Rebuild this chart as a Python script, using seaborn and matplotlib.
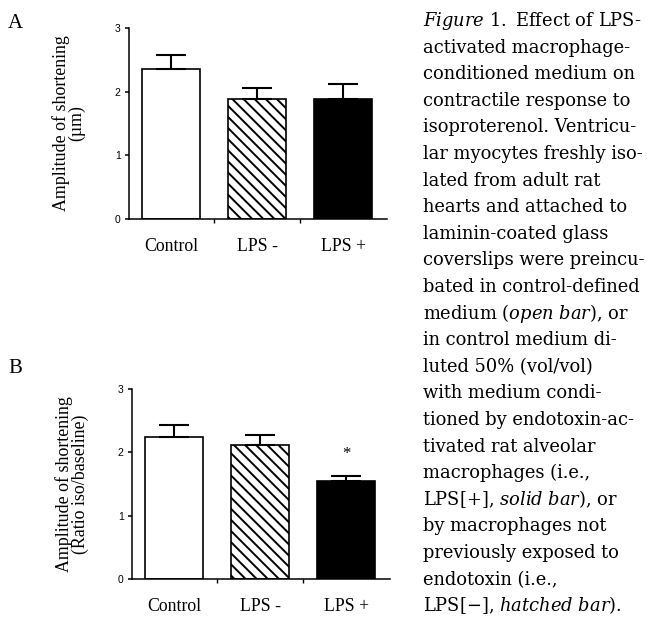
import numpy as np
import seaborn as sns
import matplotlib
matplotlib.use("Agg")
import matplotlib.pyplot as plt

# data
groups = ["Control", "LPS -", "LPS +"]
amp_um = [2.35, 1.89, 1.89]
amp_um_sem = [0.22, 0.17, 0.23]
ratio_iso = [2.24, 2.11, 1.54]
ratio_iso_sem = [0.19, 0.17, 0.09]
yticks = [0, 1, 2, 3]

caption_lines = [
    r"$\mathit{Figure\ 1.}$ Effect of LPS-",
    "activated macrophage-",
    "conditioned medium on",
    "contractile response to",
    "isoproterenol. Ventricu-",
    "lar myocytes freshly iso-",
    "lated from adult rat",
    "hearts and attached to",
    "laminin-coated glass",
    "coverslips were preincu-",
    "bated in control-defined",
    r"medium ($\mathit{open\ bar}$), or",
    "in control medium di-",
    "luted 50% (vol/vol)",
    "with medium condi-",
    "tioned by endotoxin-ac-",
    "tivated rat alveolar",
    "macrophages (i.e.,",
    r"LPS[+], $\mathit{solid\ bar}$), or",
    "by macrophages not",
    "previously exposed to",
    "endotoxin (i.e.,",
    r"LPS[$-$], $\mathit{hatched\ bar}$).",
]

sns.set_style("white")
plt.rcParams["mathtext.fontset"] = "custom"
plt.rcParams["mathtext.rm"] = "DejaVu Serif"
plt.rcParams["mathtext.it"] = "DejaVu Serif:italic"
plt.rcParams["hatch.linewidth"] = 1.4
for key in ["text.color", "axes.labelcolor", "xtick.color", "ytick.color", "axes.edgecolor"]:
    plt.rcParams[key] = "black"

W, H = 647, 626
fig = plt.figure(figsize=(W / 100, H / 100), dpi=100)

serif = "Liberation Serif"
sans = "Liberation Sans"


def panel(rect, values, errs, ylabel, star=False):
    ax = fig.add_axes(rect)
    sns.barplot(x=groups, y=values, ax=ax, width=0.675,
                color="white", edgecolor="black", linewidth=1.2)
    bars = ax.patches
    bars[0].set_facecolor("white")
    bars[1].set_facecolor("white")
    bars[1].set_hatch("\\\\\\")
    bars[2].set_facecolor("black")
    ax.errorbar(range(len(groups)), values, yerr=[[0] * len(errs), errs],
                fmt="none", ecolor="black", elinewidth=1.5, capsize=10.5,
                capthick=1.5, zorder=3)
    ax.set_ylim(0, 3)
    ax.set_xlim(-0.49, 2.51)
    ax.set_yticks(yticks)
    ax.set_yticklabels([str(t) for t in yticks], fontfamily=sans, fontsize=7.5)
    ax.tick_params(axis="y", direction="out", length=3, width=1.1, pad=3, left=True)
    ax.set_xticks([0.5, 1.5], minor=True)
    ax.tick_params(axis="x", which="major", length=0, pad=14)
    ax.tick_params(axis="x", which="minor", length=3, width=1, direction="out", bottom=True)
    for lab in ax.get_xticklabels():
        lab.set_fontfamily(serif)
        lab.set_fontsize(12.8)
    sns.despine(ax=ax)
    for s in ["left", "bottom"]:
        ax.spines[s].set_linewidth(1.1)
        ax.spines[s].set_color("black")
    ax.set_ylabel(ylabel, fontfamily=serif, fontsize=12.9, linespacing=0.9, labelpad=21)
    if star:
        ax.text(2.0, values[2] + errs[2] + 0.35, "*", ha="center", va="center",
                fontsize=12, fontfamily=serif)
    return ax


axA = panel([129 / W, 1 - 219 / H, 258 / W, 191 / H], amp_um, amp_um_sem,
            "Amplitude of shortening\n(\u00b5m)")
axB = panel([132 / W, 1 - 579 / H, 258 / W, 190 / H], ratio_iso, ratio_iso_sem,
            "Amplitude of shortening\n(Ratio iso/baseline)", star=True)

fig.text(8 / W, 1 - 28 / H, "A", fontfamily=serif, fontsize=15, va="baseline")
fig.text(8 / W, 1 - 373 / H, "B", fontfamily=serif, fontsize=15, va="baseline")

# caption column, font size fitted so the widest line ends near the right edge
cap_left, cap_right = 423, 645
texts = []
for i, line in enumerate(caption_lines):
    t = fig.text(cap_left / W, 1 - (26 + 26.6 * i) / H, line, fontfamily="DejaVu Serif",
                 fontsize=13, va="baseline", ha="left")
    texts.append(t)
renderer = fig.canvas.get_renderer()
widest = max(t.get_window_extent(renderer).width for t in texts)
size = 13 * (cap_right - cap_left) / widest
for t in texts:
    t.set_fontsize(size)

fig.savefig("out.png", dpi=100)
